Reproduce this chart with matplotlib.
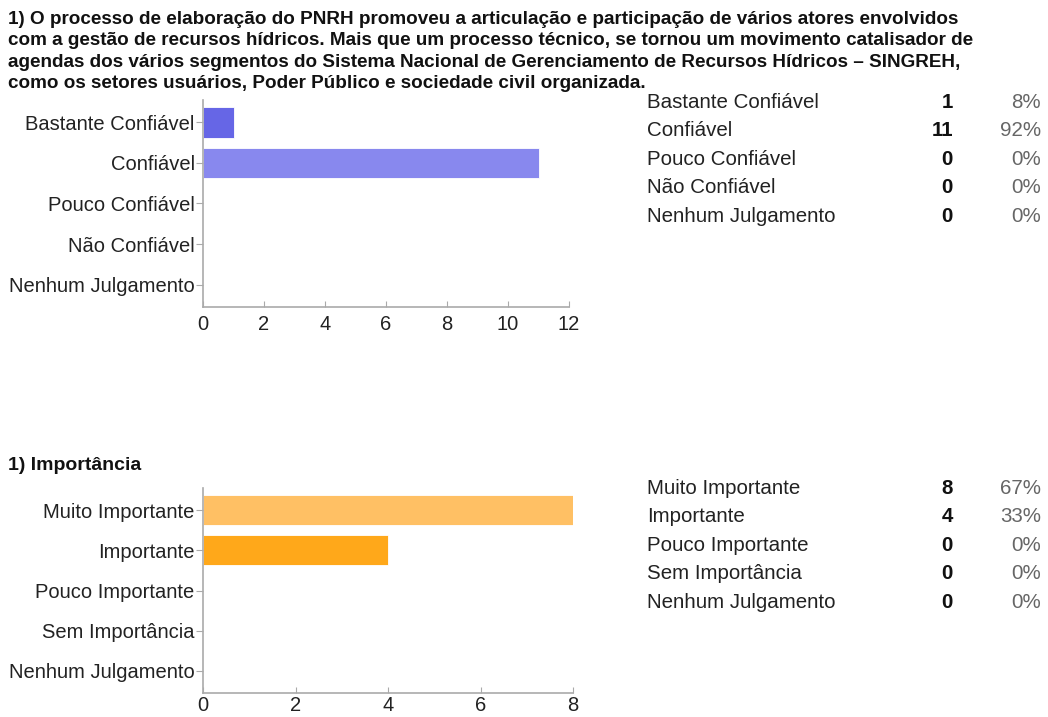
import matplotlib.pyplot as plt

# -----------------------------
# Data
# -----------------------------
title_text = ("1) O processo de elaboração do PNRH promoveu a articulação e participação de vários atores envolvidos\n"
              "com a gestão de recursos hídricos. Mais que um processo técnico, se tornou um movimento catalisador de\n"
              "agendas dos vários segmentos do Sistema Nacional de Gerenciamento de Recursos Hídricos – SINGREH,\n"
              "como os setores usuários, Poder Público e sociedade civil organizada.")

conf_labels = ["Bastante Confiável", "Confiável", "Pouco Confiável", "Não Confiável", "Nenhum Julgamento"]
conf_counts = [1, 11, 0, 0, 0]
conf_pcts = ["8%", "92%", "0%", "0%", "0%"]
conf_colors = ["#6666e6", "#8888ee", "#9999f0", "#aaaaf2", "#bbbbf4"]
conf_ticks = [0, 2, 4, 6, 8, 10, 12]

imp_title = "1) Importância"
imp_labels = ["Muito Importante", "Importante", "Pouco Importante", "Sem Importância", "Nenhum Julgamento"]
imp_counts = [8, 4, 0, 0, 0]
imp_pcts = ["67%", "33%", "0%", "0%", "0%"]
imp_colors = ["#ffc064", "#ffa81a", "#ffcc80", "#ffd699", "#ffe0b3"]
imp_ticks = [0, 2, 4, 6, 8]

W, H = 1048, 717
fig = plt.figure(figsize=(W / 100, H / 100), dpi=100)
plt.rcParams['font.family'] = ['Liberation Sans', 'DejaVu Sans']

fig.text(8 / W, 1 - 11 / H, title_text, ha='left', va='top', fontsize=13.6,
         fontweight='bold', linespacing=1.33, color='#111111')
fig.text(8 / W, 1 - 466 / H, imp_title, ha='left', va='center', fontsize=14,
         fontweight='bold', color='#111111')


def bar_panel(rect, labels, counts, colors, ticks, xmax, xpad):
    ax = fig.add_axes(rect)
    ypos = list(range(len(labels)))
    ax.barh(ypos, counts, height=0.75, color=colors, edgecolor='white', linewidth=0.6)
    ax.set_ylim(len(labels) - 0.45, -0.55)
    ax.set_xlim(0, xmax)
    ax.set_yticks(ypos)
    ax.set_yticklabels(labels, fontsize=14.5, color='#222222')
    ax.set_xticks(ticks)
    ax.set_xticklabels([str(t) for t in ticks], fontsize=14.5, color='#222222')
    for s in ['top', 'right']:
        ax.spines[s].set_visible(False)
    for s in ['left', 'bottom']:
        ax.spines[s].set_color('#aaaaaa')
        ax.spines[s].set_linewidth(1.2)
    ax.tick_params(axis='y', length=5, color='#aaaaaa', pad=1)
    ax.tick_params(axis='x', direction='in', length=4, color='#aaaaaa', pad=xpad)
    return ax


bar_panel([203 / W, 1 - 307 / H, 366 / W, 207 / H], conf_labels, conf_counts, conf_colors, conf_ticks, 12, 6)
bar_panel([203 / W, 1 - 693 / H, 370 / W, 205 / H], imp_labels, imp_counts, imp_colors, imp_ticks, 8, 2)


def table(y0, labels, counts, pcts):
    for i, (lab, c, p) in enumerate(zip(labels, counts, pcts)):
        y = 1 - (y0 + i * 28.6) / H
        fig.text(647 / W, y, lab, ha='left', va='center', fontsize=14.8, color='#222222')
        fig.text(953 / W, y, str(c), ha='right', va='center', fontsize=14.8, fontweight='bold', color='#111111')
        fig.text(1041 / W, y, p, ha='right', va='center', fontsize=14.8, color='#666666')


table(102, conf_labels, conf_counts, conf_pcts)
table(488, imp_labels, imp_counts, imp_pcts)

fig.savefig("out.png", dpi=100)
